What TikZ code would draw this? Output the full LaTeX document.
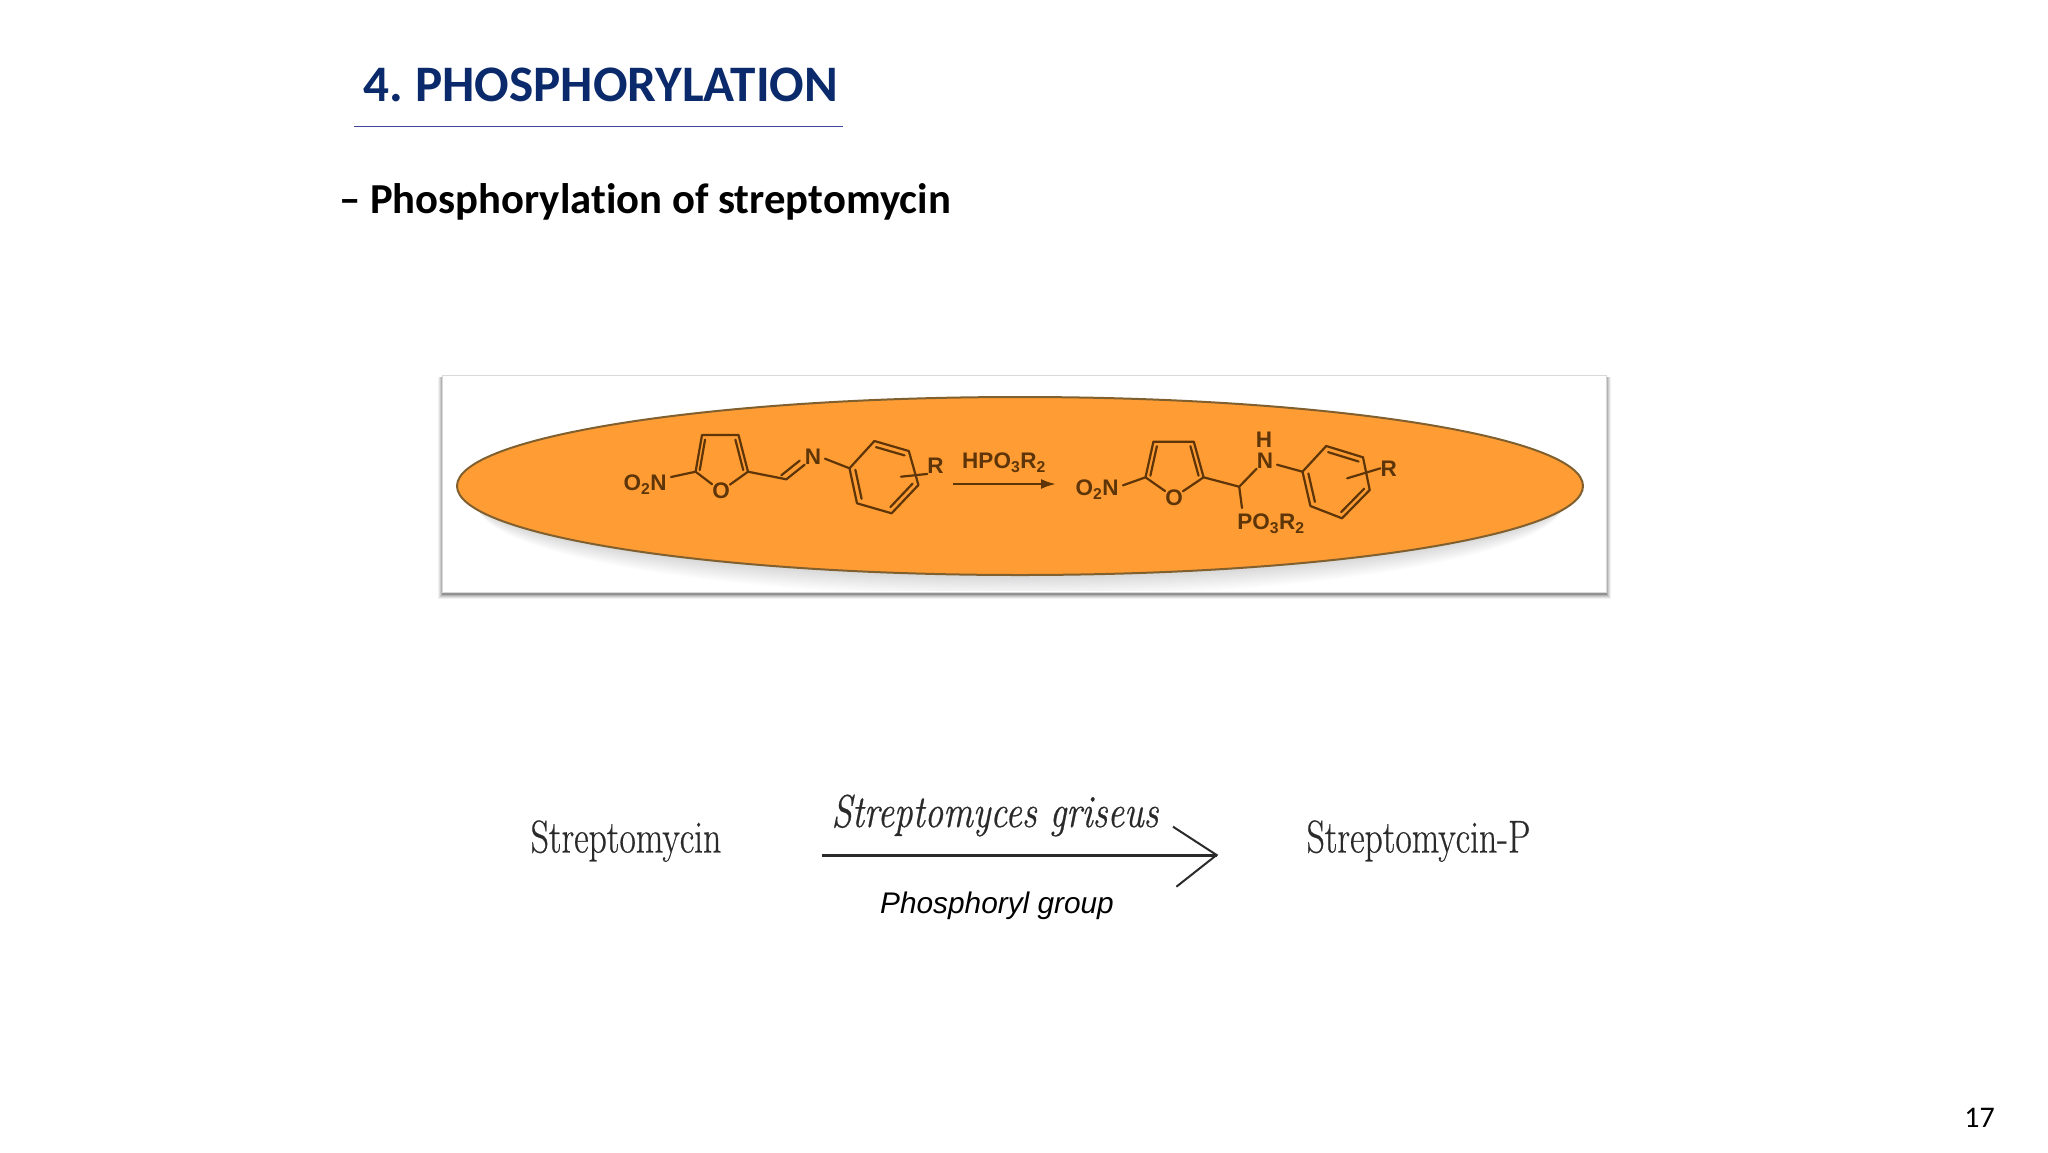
\documentclass[tikz,border=0pt]{standalone}
\usepackage{fontspec}
\setmainfont{Liberation Sans}
\newfontfamily\carl[Ligatures=NoCommon]{Carlito}
\newfontfamily\lmr[FakeBold=0.6]{Latin Modern Roman}
\usetikzlibrary{calc,arrows.meta}
\definecolor{titleblue}{HTML}{0B2A6B}
\definecolor{rulecol}{HTML}{3F4598}
\definecolor{orangefill}{HTML}{FF9C33}
\definecolor{ringedge}{HTML}{80602F}
\definecolor{chem}{HTML}{5E3508}
\definecolor{bottomink}{HTML}{2A2A2A}
\newcommand{\sz}[1]{\fontsize{#1}{#1}\selectfont}
\newcommand{\dbl}[3]{\draw[bond] ($(#1)!.17!(#3)$) -- ($(#2)!.17!(#3)$);}
\tikzset{
  x=1pt,y=-1pt,
  bond/.style={draw=chem,line width=2.2pt,line join=round,line cap=round},
  atom/.style={text=chem,inner sep=0pt,font=\bfseries\sz{22.5}},
  slab/.style={text=bottomink,inner sep=0pt,anchor=base,font=\lmr\sz{46},transform shape,xscale=.775},
}
\begin{document}
\begin{tikzpicture}
\useasboundingbox[fill=white] (0,0) rectangle (2048,1152);
% header
\node[anchor=base west,inner sep=0pt,text=titleblue,font=\carl\bfseries\sz{51.2}] (title) at (363,101.7) {4.\hspace{.24em}PHOSPHORYLATION};
\coordinate (ruleL) at (354,126.7);
\coordinate (ruleR) at (843,126.7);
\draw[rulecol,line width=1.5pt] (ruleL) -- (ruleR);
\node[anchor=base west,inner sep=0pt,font=\carl\bfseries\sz{42.7}] (sub) at (339,213) {– Phosphorylation of streptomycin};
\node[anchor=base east,inner sep=0pt,font=\carl\sz{30}] (page) at (1995,1127) {17};
% panel
\foreach \d/\o in {5/.05,4/.07,3/.09,2/.12,1/.18}{
  \fill[black,opacity=\o] (443-\d,377) rectangle (1606+\d,594+\d);
}
\fill[white] (442,375) rectangle (1606,592);
\draw[gray!30,line width=1pt] (442,375) rectangle (1606,592);
\begin{scope}
\clip (443,377) rectangle (1604,590);
\foreach \d in {0,2,...,22}{
  \fill[black,opacity=.014] (1020,488+\d*.7) ellipse ({556-\d*.6} and {84+\d*.4});
}
\end{scope}
\fill[orangefill] (1020,486) ellipse (563 and 89);
\draw[ringedge,line width=2pt] (1020,486) ellipse (563 and 89);
% left molecule
\node[atom] (lno) at (645,485) {O\textsubscript{2}N};
\node[atom] (lo) at (721,491) {O};
\coordinate (la) at (695.6,471.7);
\coordinate (lb) at (702,435);
\coordinate (lc) at (738.5,435);
\coordinate (ld) at (748,471.7);
\coordinate (lfc) at (720,462);
\draw[bond] (lo) -- (la) -- (lb) -- (lc) -- (ld) -- (lo);
\dbl{la}{lb}{lfc}\dbl{lc}{ld}{lfc}
\draw[bond] (lno) ++(26,-8) -- (la);
\coordinate (lch) at (786.3,479.3);
\node[atom] (ln) at (813,456.7) {N};
\draw[bond] (ld) -- (lch) -- (ln.south west);
\draw[bond] ($(lch)+(-5,-4)$) -- ($(ln.south west)+(-5,-4)$);
\coordinate (l1) at (849.5,468.3);
\coordinate (l2) at (874.4,441);
\coordinate (l3) at (908.8,451);
\coordinate (l4) at (918.4,485);
\coordinate (l5) at (891.6,513.3);
\coordinate (l6) at (857,503.3);
\coordinate (lbc) at (884,477);
\draw[bond] (ln) ++(12,2) -- (l1);
\draw[bond] (l1) -- (l2) -- (l3) -- (l4) -- (l5) -- (l6) -- cycle;
\dbl{l2}{l3}{lbc}\dbl{l4}{l5}{lbc}\dbl{l6}{l1}{lbc}
\node[atom] (lr) at (935.6,466) {R};
\coordinate (lrs) at (901,476.7);
\draw[bond] (lrs) -- (lr.south west);
% reaction arrow
\node[atom] (hpo) at (1004,463) {HPO\textsubscript{3}R\textsubscript{2}};
\coordinate (rs) at (953,484);
\coordinate (rt) at (1056,484);
\draw[chem,line width=2.4pt,-{Latex[length=15pt,width=10pt]}] (rs) -- (rt);
% right molecule
\node[atom] (rno) at (1097,489.3) {O\textsubscript{2}N};
\node[atom] (ro) at (1174,497.3) {O};
\coordinate (ra) at (1145.5,477.3);
\coordinate (rb) at (1153.4,441.7);
\coordinate (rc) at (1193.8,441.7);
\coordinate (rd) at (1203.6,477.3);
\coordinate (rfc) at (1174,468);
\draw[bond] (ro) -- (ra) -- (rb) -- (rc) -- (rd) -- (ro);
\dbl{ra}{rb}{rfc}\dbl{rc}{rd}{rfc}
\draw[bond] (rno) ++(26,-4) -- (ra);
\coordinate (rch) at (1239.2,486.7);
\node[atom] (rn) at (1265,460.7) {N};
\node[atom] (rh) at (1264,439.5) {H};
\node[atom] (rp) at (1271,524) {PO\textsubscript{3}R\textsubscript{2}};
\draw[bond] (rd) -- (rch) -- (rn.south west);
\draw[bond] (rch) -- (1242,508);
\coordinate (r1) at (1302.5,471.7);
\coordinate (r2) at (1326.2,446);
\coordinate (r3) at (1363,457.3);
\coordinate (r4) at (1369.7,490);
\coordinate (r5) at (1342,518.3);
\coordinate (r6) at (1310.4,506);
\coordinate (rbc) at (1337,482);
\draw[bond] (rn) ++(12,4) -- (r1);
\draw[bond] (r1) -- (r2) -- (r3) -- (r4) -- (r5) -- (r6) -- cycle;
\dbl{r2}{r3}{rbc}\dbl{r4}{r5}{rbc}\dbl{r6}{r1}{rbc}
\node[atom] (rr) at (1388.7,468.3) {R};
\coordinate (rrs) at (1347.2,478.3);
\draw[bond] (rrs) -- (rr.west);
% lower reaction
\node[slab] (s1) at (626,852.5) {Streptomycin};
\node[slab] (s2) at (1418.5,852.5) {Streptomycin-P};
\node[text=bottomink,inner sep=0pt,anchor=base,font=\lmr\itshape\sz{46},transform shape,xscale=.805] (org) at (995,827) {Streptomyces griseus};
\coordinate (as) at (821.5,855);
\coordinate (at) at (1216.6,855);
\coordinate (h1) at (1173,826.7);
\coordinate (h2) at (1176.4,886.7);
\draw[bottomink,line width=3pt] (as) -- (at);
\draw[bottomink,line width=2pt,line join=miter] (h1) -- (at) -- (h2);
\node[anchor=base,inner sep=0pt,font=\itshape\sz{29.8}] (pg) at (997,913) {Phosphoryl group};
\end{tikzpicture}
\end{document}
